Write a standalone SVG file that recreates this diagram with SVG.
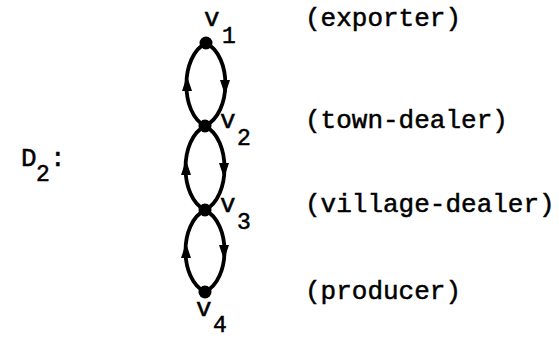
<svg xmlns="http://www.w3.org/2000/svg" width="559" height="338" viewBox="0 0 559 338">
<style>
text{font-family:"Liberation Mono","DejaVu Sans Mono",monospace;fill:#000;stroke:#000;stroke-width:0.5;}
.lab{font-size:26px;}
.v{font-size:26px;}
.s{font-size:23px;}
.edge{fill:none;stroke:#000;stroke-width:3.8;}
.dot{fill:#000;}
.ah{fill:#000;}
</style>
<rect width="559" height="338" fill="#fff"/>
<g id="title"><text x="21" y="166" class="v">D</text><text x="36" y="181" class="s">2</text><text x="50" y="166" class="v">:</text></g>
<g id="connectors">
<path class="edge" d="M206 43 C180 56,180 113,205 126"/>
<path class="edge" d="M206 43 C232 56,232 113,205 126"/>
<path class="edge" d="M205 126 C179 139,179 197,205 210"/>
<path class="edge" d="M205 126 C231 139,231 197,205 210"/>
<path class="edge" d="M205 210 C179 223,179 279,205 292"/>
<path class="edge" d="M205 210 C231 223,231 279,205 292"/>
<polygon class="ah" points="187,76 182,91 192,91"/>
<polygon class="ah" points="225,95 220,80 230,80"/>
<polygon class="ah" points="186,160 181,175 191,175"/>
<polygon class="ah" points="224,178 219,163 229,163"/>
<polygon class="ah" points="186,243 181,258 191,258"/>
<polygon class="ah" points="224,260 219,245 229,245"/>
</g>
<g id="v1"><circle class="dot" cx="206" cy="43" r="6.5"/><text x="204" y="26" class="v">v</text><text x="222" y="43" class="s">1</text><text x="305" y="26" class="lab">(exporter)</text></g>
<g id="v2"><circle class="dot" cx="205" cy="126" r="6.5"/><text x="220" y="128" class="v">v</text><text x="237" y="145" class="s">2</text><text x="305" y="128" class="lab">(town-dealer)</text></g>
<g id="v3"><circle class="dot" cx="205" cy="210" r="6.5"/><text x="220" y="212" class="v">v</text><text x="237" y="229" class="s">3</text><text x="305" y="212" class="lab">(village-dealer)</text></g>
<g id="v4"><circle class="dot" cx="205" cy="292" r="6.5"/><text x="196" y="316" class="v">v</text><text x="213" y="332" class="s">4</text><text x="305" y="299" class="lab">(producer)</text></g>
</svg>
